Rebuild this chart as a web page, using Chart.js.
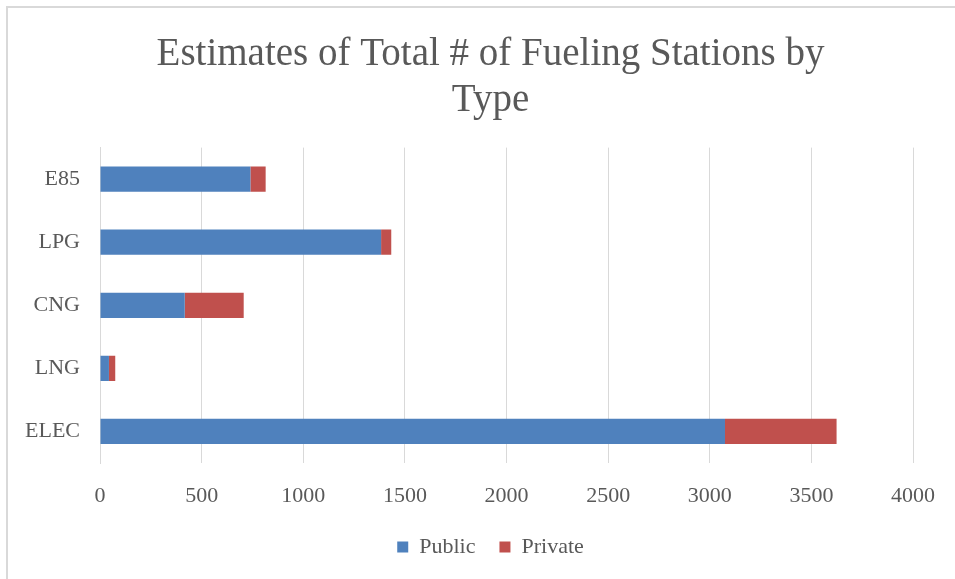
<!DOCTYPE html>
<html><head><meta charset="utf-8">
<script src="https://cdn.jsdelivr.net/npm/chart.js@4"></script>
<style>
html,body{margin:0;padding:0;background:#fff;}
#wrap{position:absolute;left:0;top:0;width:955px;height:579px;}
#frame{position:absolute;left:6px;top:6px;width:960px;height:600px;border-top:2px solid #d9d9d9;border-left:2px solid #d9d9d9;pointer-events:none;}
</style></head>
<body>
<div id="wrap"><canvas id="c" width="955" height="579"></canvas><div id="frame"></div></div>
<script>
const categories = ["E85", "LPG", "CNG", "LNG", "ELEC"];
const publicValues = [740, 1383, 417, 44, 3075];
const privateValues = [75, 50, 290, 31, 549];
const xTicks = [0, 500, 1000, 1500, 2000, 2500, 3000, 3500, 4000];
const titleLines = ["Estimates of Total # of Fueling Stations by", "Type"];
const seriesNames = ["Public", "Private"];

const FONT = "'Liberation Serif', 'DejaVu Serif', serif";
const unclipY = {
  id: 'unclipY',
  afterLayout(chart) {
    const y = chart.scales.y;
    y.left = 0;
    y.width = y.right;
  }
};
new Chart(document.getElementById('c'), {
  type: 'bar',
  data: {
    labels: categories,
    datasets: [
      {label: seriesNames[0], data: publicValues, backgroundColor: '#4F81BD', borderWidth: 0},
      {label: seriesNames[1], data: privateValues, backgroundColor: '#C0504D', borderWidth: 0}
    ]
  },
  plugins: [unclipY],
  options: {
    indexAxis: 'y',
    responsive: false,
    animation: false,
    layout: {padding: {left: 68, right: 42, top: 0, bottom: 11}},
    datasets: {bar: {barPercentage: 0.4, categoryPercentage: 1}},
    plugins: {
      title: {display: true, text: titleLines, color: '#595959',
        font: {family: FONT, size: 39, weight: 'normal'}, lineHeight: 1.15,
        padding: {top: 31, bottom: 23}},
      legend: {position: 'bottom',
        labels: {color: '#595959', font: {family: FONT, size: 22}, boxWidth: 11, boxHeight: 11, padding: 24}},
      tooltip: {enabled: false}
    },
    scales: {
      x: {stacked: true, min: 0, max: 4000,
        afterBuildTicks: s => { s.ticks = xTicks.map(v => ({value: v})); },
        afterFit: s => { s.height = 49; },
        grid: {color: '#d9d9d9', lineWidth: 1, drawTicks: false},
        border: {display: false},
        ticks: {color: '#595959', font: {family: FONT, size: 22}, padding: 20,
          callback: v => String(v)}},
      y: {stacked: true,
        afterFit: s => { s.width = 32; },
        grid: {display: false, drawTicks: false},
        border: {display: true, color: '#d9d9d9', width: 1},
        ticks: {color: '#595959', font: {family: FONT, size: 22}, padding: 20}}
    }
  }
});
</script>
</body></html>
